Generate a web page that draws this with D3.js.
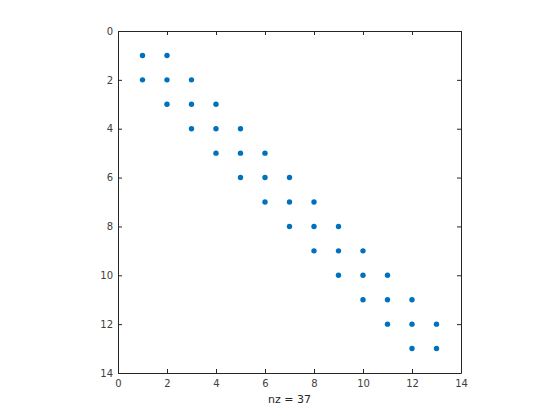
<!DOCTYPE html>
<html><head><meta charset="utf-8">
<script src="https://cdn.jsdelivr.net/npm/d3@7"></script>
<style>body{margin:0;background:#fff}svg{display:block}</style>
</head><body>
<script>
// nonzero entries of a 13x13 tridiagonal matrix (row, column)
const rows = [1,1, 2,2,2, 3,3,3, 4,4,4, 5,5,5, 6,6,6, 7,7,7, 8,8,8, 9,9,9, 10,10,10, 11,11,11, 12,12,12, 13,13];
const cols = [1,2, 1,2,3, 2,3,4, 3,4,5, 4,5,6, 5,6,7, 6,7,8, 7,8,9, 8,9,10, 9,10,11, 10,11,12, 11,12,13, 12,13];
const ticks = [0,2,4,6,8,10,12,14];
const xLabel = "nz = 37";

const W=560,H=420;
const L=118,R=461,T=31,B=373;
const svg=d3.select("body").append("svg").attr("width",W).attr("height",H);
const x=d3.scaleLinear().domain([0,14]).range([L,R]);
const y=d3.scaleLinear().domain([0,14]).range([T,B]);
const font="'DejaVu Sans', 'Liberation Sans', Arial, sans-serif";
const tc="#262626";

const gx=svg.append("g").attr("transform",`translate(0,${B})`)
  .call(d3.axisBottom(x).tickValues(ticks).tickSizeInner(-4).tickSizeOuter(0).tickPadding(7));
const gxt=svg.append("g").attr("transform",`translate(0,${T})`)
  .call(d3.axisTop(x).tickValues(ticks).tickSizeInner(-4).tickSizeOuter(0).tickFormat(""));
const gy=svg.append("g").attr("transform",`translate(${L},0)`)
  .call(d3.axisLeft(y).tickValues(ticks).tickSizeInner(-4).tickSizeOuter(0).tickPadding(5));
const gyr=svg.append("g").attr("transform",`translate(${R},0)`)
  .call(d3.axisRight(y).tickValues(ticks).tickSizeInner(-4).tickSizeOuter(0).tickFormat(""));
[gx,gxt,gy,gyr].forEach(g=>{
  g.selectAll(".domain").attr("stroke",tc).attr("stroke-width",1);
  g.selectAll(".tick line").attr("stroke",tc);
  g.selectAll("text").attr("fill","#404040").style("font-family",font).style("font-size","10px");
});

svg.append("g").selectAll("circle").data(rows.map((r,i)=>[r,cols[i]])).join("circle")
  .attr("cx",d=>x(d[1])).attr("cy",d=>y(d[0])).attr("r",2.7).attr("fill","#0072BD");

svg.append("text").attr("x",(L+R)/2).attr("y",403).attr("text-anchor","middle")
  .attr("fill",tc).style("font-family",font).style("font-size","11px").text(xLabel);
</script>
</body></html>
